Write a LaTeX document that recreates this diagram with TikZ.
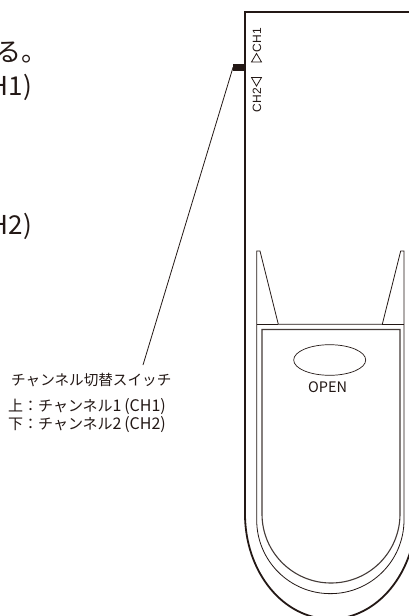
\documentclass[tikz,border=0pt]{standalone}
\usepackage{fontspec}
\setmainfont{Noto Sans CJK JP}
\newfontfamily\marksans{Liberation Sans}
\usepackage{tikz}
\usetikzlibrary{positioning,calc,shapes.geometric}
\definecolor{inkblack}{HTML}{231815}
\newcommand{\latinbit}[1]{{\fontsize{16}{17}\selectfont #1}}
\tikzset{
	bodyline/.style={draw=inkblack,line width=1.8pt},
	thinline/.style={draw=inkblack,line width=0.8pt},
	notetext/.style={inner sep=0pt,text=inkblack,font=\fontsize{14.6}{17}\selectfont,anchor=west},
	listtext/.style={inner sep=0pt,text=inkblack,font=\fontsize{15}{17}\selectfont,anchor=west},
	cuttext/.style={inner sep=0pt,text=inkblack,font=\fontsize{26}{30}\selectfont,anchor=east},
	marktext/.style={inner sep=0pt,text=inkblack,rotate=90,font=\marksans\fontsize{12}{12}\selectfont},
}
\begin{document}
\begin{tikzpicture}[x=1pt,y=-1pt]
		\clip (0,0) rectangle (409,616);
		\fill[white] (0,0) rectangle (409,616);

		\node[cuttext] (cutru) at (48,52) {る。};
		\node[cuttext] (cutone) at (32,87) {H1)};
		\node[cuttext] (cuttwo) at (32,226) {H2)};

		\draw[bodyline] (409,12)--(245,12)--(245,514) arc[start angle=180,end angle=0,x radius=85.5,y radius=105];
		\draw[thinline] (256.7,251)--(260,251)--(278.3,324.3)--(382.3,324.3)--(400.7,251)--(404,251)--(404,520) arc[start angle=0,end angle=180,radius=73.65]--cycle;
		\draw[thinline] (256.7,324.3)--(278.3,324.3);
		\draw[thinline] (382.3,324.3)--(404,324.3);
		\draw[draw=inkblack!85,line width=1.1pt] (262,329.5)--(400,329.5)--(400,514) arc[start angle=0,end angle=180,radius=69]--cycle;

		\node[draw=inkblack,line width=0.7pt,ellipse,minimum width=72pt,minimum height=30.6pt,inner sep=0pt] (openmark) at (329.7,360) {};
		\node[below=6pt of openmark,xshift=-2pt,inner sep=0pt,text=inkblack,font=\fontsize{14.5}{16}\selectfont] (opentext) {OPEN};

		\node[marktext,anchor=west] (ch1) at (257,52.5) {CH1};
		\node[marktext,anchor=east] (ch2) at (257,88) {CH2};
		\draw[thinline] (251.5,62)--(261.5,62)--(256.5,53.5)--cycle;
		\draw[thinline] (251.5,77.5)--(261.5,77.5)--(256.5,86)--cycle;

		\node[fill=inkblack,inner sep=0pt,minimum width=11.5pt,minimum height=7.5pt] (switch) at (239,67.3) {};
		\coordinate (leaderend) at (143,365);
		\draw[thinline] (switch.west)--(leaderend);

		\node[notetext] (note) at (11,380) {チャンネル切替スイッチ};
		\node[listtext] (noteup) at (8,407) {上：チャンネル\latinbit{1\,(CH1)}};
		\node[listtext] (notedown) at (8,425) {下：チャンネル\latinbit{2\,(CH2)}};
	\end{tikzpicture}
\end{document}
